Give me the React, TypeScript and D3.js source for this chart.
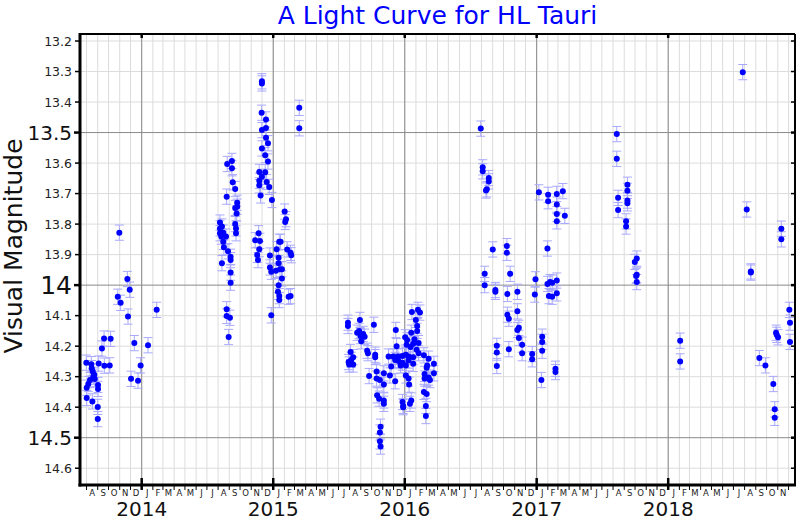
import React from "react";
import * as d3 from "d3";

// Observations: [decimal year, visual magnitude]
const season2013: [number, number][] = [
  [2013.579, 14.254], [2013.582, 14.336], [2013.582, 14.370], [2013.594, 14.324],
  [2013.607, 14.311], [2013.617, 14.259], [2013.620, 14.272], [2013.625, 14.381],
  [2013.628, 14.283], [2013.632, 14.300], [2013.640, 14.294], [2013.643, 14.308],
  [2013.668, 14.327], [2013.668, 14.340], [2013.666, 14.399], [2013.666, 14.439],
  [2013.673, 14.257], [2013.698, 14.208], [2013.714, 14.175], [2013.716, 14.264],
  [2013.757, 14.263], [2013.764, 14.176], [2013.818, 14.038], [2013.830, 13.828],
  [2013.840, 14.058], [2013.891, 13.980], [2013.896, 14.103], [2013.909, 14.015],
  [2013.919, 14.307], [2013.944, 14.190], [2013.972, 14.313], [2013.992, 14.263],
  [2014.048, 14.197], [2014.114, 14.081],
];

const season2014: [number, number][] = [
  [2014.595, 13.795], [2014.610, 13.808], [2014.595, 13.814], [2014.595, 13.830],
  [2014.620, 13.828], [2014.641, 13.841], [2014.605, 13.841], [2014.620, 13.858],
  [2014.625, 13.876], [2014.656, 13.889], [2014.610, 13.928], [2014.650, 13.603],
  [2014.686, 13.593], [2014.686, 13.617], [2014.692, 13.663], [2014.711, 13.685],
  [2014.646, 13.710], [2014.726, 13.730], [2014.726, 13.743], [2014.711, 13.747],
  [2014.722, 13.765], [2014.711, 13.800], [2014.717, 13.814], [2014.717, 13.830],
  [2014.676, 13.907], [2014.676, 13.918], [2014.676, 13.959], [2014.676, 13.992],
  [2014.646, 14.079], [2014.646, 14.101], [2014.671, 14.107], [2014.661, 14.170],
  [2014.914, 13.332], [2014.914, 13.339], [2014.912, 13.435], [2014.945, 13.457],
  [2014.914, 13.492], [2014.945, 13.485], [2014.945, 13.517], [2014.960, 13.535],
  [2014.914, 13.552], [2014.939, 13.574], [2014.960, 13.595], [2014.894, 13.629],
  [2014.939, 13.630], [2014.914, 13.645], [2014.894, 13.658], [2014.950, 13.662],
  [2014.894, 13.673], [2014.970, 13.678], [2014.904, 13.706], [2014.990, 13.721],
  [2014.889, 13.830], [2014.863, 13.853], [2014.899, 13.855], [2014.894, 13.882],
  [2014.878, 13.901], [2014.884, 13.918], [2014.975, 13.903], [2014.975, 13.942],
  [2014.985, 13.956], [2014.985, 14.099], [2015.021, 13.953], [2015.041, 13.910],
  [2015.041, 13.928], [2015.046, 13.858], [2015.056, 13.858], [2015.051, 13.948],
  [2015.066, 13.948], [2015.066, 13.978], [2015.026, 13.882], [2015.041, 14.000],
  [2015.036, 14.022], [2015.046, 14.036], [2015.046, 14.049], [2015.087, 13.759],
  [2015.097, 13.784], [2015.091, 13.793], [2015.106, 13.883], [2015.132, 13.894],
  [2015.137, 13.902], [2015.117, 14.038], [2015.132, 14.036], [2015.198, 13.419],
  [2015.198, 13.486],
];

const season2015: [number, number][] = [
  [2015.568, 14.123], [2015.568, 14.134], [2015.659, 14.114], [2015.765, 14.130],
  [2015.638, 14.156], [2015.653, 14.150], [2015.684, 14.160], [2015.664, 14.167],
  [2015.695, 14.169], [2015.669, 14.184], [2015.588, 14.219], [2015.714, 14.215],
  [2015.720, 14.223], [2015.775, 14.228], [2015.775, 14.236], [2015.608, 14.236],
  [2015.593, 14.245], [2015.573, 14.252], [2015.577, 14.260], [2015.608, 14.260],
  [2015.932, 14.147], [2016.054, 14.088], [2016.100, 14.081], [2016.115, 14.090],
  [2016.084, 14.114], [2016.094, 14.134], [2016.049, 14.156], [2016.094, 14.150],
  [2016.003, 14.171], [2016.018, 14.180], [2016.074, 14.177], [2016.105, 14.190],
  [2016.064, 14.192], [2015.938, 14.200], [2016.014, 14.195], [2016.044, 14.203],
  [2016.090, 14.212], [2016.105, 14.223], [2015.877, 14.234], [2015.912, 14.234],
  [2015.948, 14.234], [2015.983, 14.232], [2016.008, 14.228], [2016.029, 14.234],
  [2016.064, 14.236], [2016.145, 14.230], [2016.181, 14.241], [2015.927, 14.245],
  [2015.953, 14.249], [2015.983, 14.254], [2016.029, 14.247], [2015.968, 14.263],
  [2016.008, 14.263], [2016.064, 14.258], [2016.170, 14.263], [2016.221, 14.258],
  [2015.897, 14.267], [2016.166, 14.271], [2015.786, 14.283], [2015.841, 14.289],
  [2015.887, 14.296], [2016.008, 14.296], [2015.729, 14.298], [2016.150, 14.291],
  [2016.221, 14.289], [2016.181, 14.303], [2015.786, 14.306], [2015.811, 14.311],
  [2015.927, 14.315], [2016.029, 14.306], [2016.150, 14.306], [2016.191, 14.311],
  [2015.841, 14.326], [2016.033, 14.326], [2016.145, 14.350], [2016.166, 14.357],
  [2015.790, 14.361], [2015.805, 14.372], [2015.841, 14.378], [2015.841, 14.389],
  [2016.049, 14.378], [2016.039, 14.389], [2015.983, 14.383], [2015.988, 14.396],
  [2015.988, 14.400], [2016.160, 14.396], [2016.160, 14.429], [2015.816, 14.464],
  [2015.811, 14.483], [2015.811, 14.512], [2015.816, 14.529],
];

const season2016: [number, number][] = [
  [2016.576, 13.487], [2016.591, 13.614], [2016.591, 13.627], [2016.637, 13.649],
  [2016.637, 13.660], [2016.622, 13.686], [2016.616, 13.690], [2016.667, 13.883],
  [2016.774, 13.872], [2016.774, 13.894], [2016.606, 13.963], [2016.799, 13.963],
  [2016.606, 14.000], [2016.687, 14.016], [2016.687, 14.022], [2016.778, 14.029],
  [2016.854, 14.022], [2016.778, 14.097], [2016.789, 14.110], [2016.854, 14.086],
  [2016.865, 14.140], [2016.854, 14.147], [2016.865, 14.173], [2016.890, 14.195],
  [2016.698, 14.199], [2016.698, 14.221], [2016.789, 14.210], [2016.890, 14.223],
  [2016.698, 14.265], [2016.966, 14.226], [2016.966, 14.243], [2016.991, 13.981],
  [2016.986, 14.031], [2017.017, 13.696], [2017.087, 13.704], [2017.087, 13.725],
  [2017.153, 13.701], [2017.199, 13.692], [2017.153, 13.736], [2017.153, 13.767],
  [2017.153, 13.791], [2017.214, 13.773], [2017.082, 13.880], [2017.082, 13.996],
  [2017.102, 13.990], [2017.118, 13.992], [2017.153, 13.985], [2017.093, 14.036],
  [2017.118, 14.038], [2017.153, 14.027], [2017.042, 14.169], [2017.042, 14.186],
  [2017.042, 14.215], [2017.036, 14.311], [2017.143, 14.274], [2017.143, 14.285],
];

const season2017: [number, number][] = [
  [2017.609, 13.505], [2017.609, 13.586], [2017.690, 13.671], [2017.690, 13.691],
  [2017.690, 13.723], [2017.690, 13.732], [2017.619, 13.714], [2017.619, 13.754],
  [2017.680, 13.791], [2017.680, 13.808], [2017.761, 13.913], [2017.746, 13.924],
  [2017.761, 13.966], [2017.756, 13.970], [2017.761, 13.990], [2018.091, 14.182],
  [2018.091, 14.250],
];

const season2018: [number, number][] = [
  [2018.567, 13.302], [2018.597, 13.752], [2018.628, 13.955], [2018.628, 13.959],
  [2018.693, 14.239], [2018.739, 14.263], [2018.799, 14.324], [2018.810, 14.407],
  [2018.810, 14.435], [2018.820, 14.156], [2018.825, 14.163], [2018.835, 14.171],
  [2018.860, 13.815], [2018.860, 13.850], [2018.921, 14.081], [2018.926, 14.123],
  [2018.926, 14.186],
];

const magError = 0.025;
const xDomainYears = [2013.531, 2018.964];
const yDomain = [13.177, 14.655];
const minorMagTicks = [13.2, 13.3, 13.4, 13.6, 13.7, 13.8, 13.9, 14.1, 14.2, 14.3, 14.4, 14.6];
const majorMagTicks = [13.5, 14.0, 14.5];
const majorMagLabels = ["13.5", "14", "14.5"];
const majorMagSizes = [20, 25, 20];
const monthLetters = ["J", "F", "M", "A", "M", "J", "J", "A", "S", "O", "N", "D"];
const titleText = "A Light Curve for HL Tauri";
const yLabel = "Visual Magnitude";

function decYear(y: number): Date {
  const yr = Math.floor(y);
  const s = Date.UTC(yr, 0, 1);
  const e = Date.UTC(yr + 1, 0, 1);
  return new Date(s + (y - yr) * (e - s));
}

const W = 800, H = 520;
const L = 80, R = 795, T = 34, B = 485;
const FONT = "DejaVu Sans, sans-serif";

export default function App() {
  const x = d3.scaleUtc().domain([decYear(xDomainYears[0]), decYear(xDomainYears[1])]).range([L, R]);
  const y = d3.scaleLinear().domain(yDomain).range([T, B]);
  const [d0, d1] = x.domain();
  const months = d3.utcMonth.range(d3.utcMonth.ceil(d0), d1);
  const years = d3.utcYear.range(d3.utcYear.ceil(d0), d1);
  const fullMonths = months.filter((m) => d3.utcMonth.offset(m, 1) <= d1);
  const allObs = [...season2013, ...season2014, ...season2015, ...season2016, ...season2017, ...season2018];

  return (
    <svg width={W} height={H} style={{ position: "absolute", left: 0, top: 0, background: "#fff" }}>
      <rect x={0} y={0} width={W} height={H} fill="#fff" />
      {/* minor grid */}
      {months.map((m, i) => (
        <line key={"gm" + i} x1={x(m)} x2={x(m)} y1={T} y2={B} stroke="#dcdcdc" strokeWidth={1} />
      ))}
      {minorMagTicks.map((v, i) => (
        <line key={"gy" + i} x1={L} x2={R} y1={y(v)} y2={y(v)} stroke="#dcdcdc" strokeWidth={1} />
      ))}
      {/* major grid */}
      {years.map((m, i) => (
        <line key={"gY" + i} x1={x(m)} x2={x(m)} y1={T} y2={B} stroke="#8a8a8a" strokeWidth={1} />
      ))}
      {majorMagTicks.map((v, i) => (
        <line key={"gM" + i} x1={L} x2={R} y1={y(v)} y2={y(v)} stroke="#8a8a8a" strokeWidth={1} />
      ))}
      {/* error bars */}
      <g stroke="#a8a8ff" strokeWidth={1} fill="none">
        {allObs.map(([t, m], i) => {
          const cx = x(decYear(t));
          const y1 = y(m - magError), y2 = y(m + magError);
          return (
            <g key={"e" + i}>
              <line x1={cx} x2={cx} y1={y1} y2={y2} />
              <line x1={cx - 4.5} x2={cx + 4.5} y1={y1} y2={y1} />
              <line x1={cx - 4.5} x2={cx + 4.5} y1={y2} y2={y2} />
            </g>
          );
        })}
      </g>
      {/* points */}
      <g fill="#0000ff">
        {allObs.map(([t, m], i) => (
          <circle key={"p" + i} cx={x(decYear(t))} cy={y(m)} r={3} />
        ))}
      </g>
      {/* frame */}
      <line x1={L} x2={R} y1={T} y2={T} stroke="#000" strokeWidth={2} />
      <line x1={R} x2={R} y1={T} y2={B} stroke="#000" strokeWidth={2} />
      <line x1={L} x2={L} y1={T - 1} y2={B + 1.5} stroke="#000" strokeWidth={3} />
      <line x1={L - 1.5} x2={R + 1} y1={B} y2={B} stroke="#000" strokeWidth={3} />
      {/* left & right ticks */}
      {minorMagTicks.map((v, i) => (
        <g key={"ty" + i}>
          <line x1={L - 5} x2={L} y1={y(v)} y2={y(v)} stroke="#000" strokeWidth={1.5} />
          <line x1={R - 4} x2={R} y1={y(v)} y2={y(v)} stroke="#000" strokeWidth={1.5} />
          <text x={L - 8} y={y(v)} dy="0.36em" textAnchor="end" fontFamily={FONT} fontSize={12.5} fill="#222">
            {v.toFixed(1)}
          </text>
        </g>
      ))}
      {majorMagTicks.map((v, i) => (
        <g key={"tY" + i}>
          <line x1={L - 6} x2={L} y1={y(v)} y2={y(v)} stroke="#000" strokeWidth={2.5} />
          <line x1={R - 4} x2={R} y1={y(v)} y2={y(v)} stroke="#000" strokeWidth={2.5} />
          <text x={L - 8} y={y(v)} dy="0.36em" textAnchor="end" fontFamily={FONT} fontSize={majorMagSizes[i]} fill="#111">
            {majorMagLabels[i]}
          </text>
        </g>
      ))}
      {/* bottom month ticks & labels */}
      {months.map((m, i) => (
        <line key={"tm" + i} x1={x(m)} x2={x(m)} y1={B} y2={B + 5} stroke="#000" strokeWidth={1} />
      ))}
      {fullMonths.map((m, i) => {
        const mid = (x(m) + x(d3.utcMonth.offset(m, 1))) / 2;
        return (
          <text key={"lm" + i} x={mid} y={B + 10.5} textAnchor="middle" fontFamily={FONT} fontSize={8.5} fill="#222">
            {monthLetters[m.getUTCMonth()]}
          </text>
        );
      })}
      {years.map((m, i) => (
        <g key={"ty" + i}>
          <line x1={x(m)} x2={x(m)} y1={B - 7} y2={B + 5} stroke="#000" strokeWidth={2.5} />
          <line x1={x(m)} x2={x(m)} y1={T} y2={T + 4} stroke="#000" strokeWidth={2.5} />
          <text x={x(m)} y={516} textAnchor="middle" fontFamily={FONT} fontSize={20} fill="#111">
            {m.getUTCFullYear()}
          </text>
        </g>
      ))}
      {/* titles */}
      <text x={(L + R) / 2} y={24} textAnchor="middle" fontFamily={FONT} fontSize={25} fill="#0000ff">
        {titleText}
      </text>
      <text
        transform={`translate(22,246) rotate(-90)`}
        textAnchor="middle"
        fontFamily={FONT}
        fontSize={25}
        fill="#111"
      >
        {yLabel}
      </text>
    </svg>
  );
}
